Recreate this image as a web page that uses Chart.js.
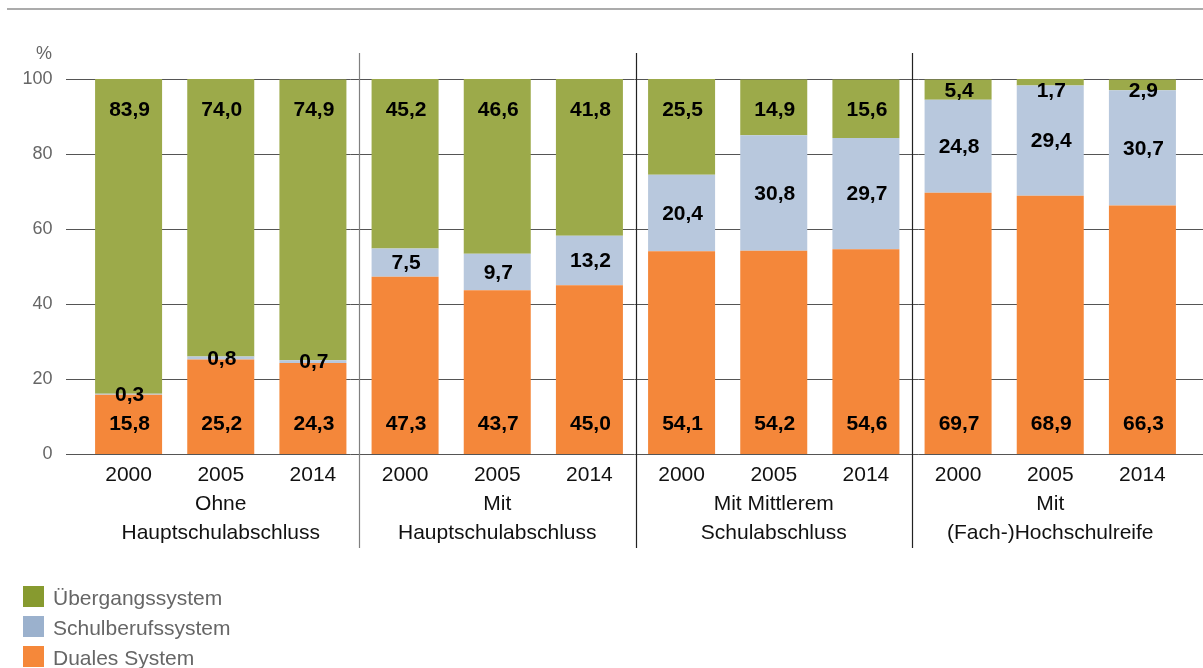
<!DOCTYPE html>
<html>
<head>
<meta charset="utf-8">
<script src="https://cdn.jsdelivr.net/npm/chart.js@4/dist/chart.umd.min.js"></script>
<style>
html,body{margin:0;padding:0;background:#fff;}
canvas{display:block;}
</style>
</head>
<body>
<canvas id="c" width="1203" height="668"></canvas>
<script>
const years = ['2000', '2005', '2014'];
const groups = [
  ['Ohne', 'Hauptschulabschluss'],
  ['Mit', 'Hauptschulabschluss'],
  ['Mit Mittlerem', 'Schulabschluss'],
  ['Mit', '(Fach-)Hochschulreife']
];
const seriesNames = ['Duales System', 'Schulberufssystem', 'Übergangssystem'];
const duales     = [15.8, 25.2, 24.3, 47.3, 43.7, 45.0, 54.1, 54.2, 54.6, 69.7, 68.9, 66.3];
const schulberuf = [0.3, 0.8, 0.7, 7.5, 9.7, 13.2, 20.4, 30.8, 29.7, 24.8, 29.4, 30.7];
const uebergang  = [83.9, 74.0, 74.9, 45.2, 46.6, 41.8, 25.5, 14.9, 15.6, 5.4, 1.7, 2.9];
const yTicks = [0, 20, 40, 60, 80, 100];

const barColors = ['#F4873A', '#B8C8DD', '#9CAA4A'];
const legendColors = ['#F5883A', '#9BB1CD', '#879A2F'];
const separatorColors = ['#808080', '#222', '#222'];
const FONT = "'Liberation Sans', Arial, sans-serif";

// category labels: year, plus group name lines under the middle year
const labels = [];
groups.forEach(g => {
  years.forEach((y, i) => {
    labels.push(i === 1 ? [y, g[0], g[1]] : [y]);
  });
});

function fmt(v) { return v.toFixed(1).replace('.', ','); }

const decor = {
  id: 'decor',
  beforeDatasetsDraw(chart) {
    const ctx = chart.ctx;
    const ys = chart.scales.y;
    ctx.save();
    // top rule
    ctx.strokeStyle = '#ababab';
    ctx.lineWidth = 2;
    ctx.beginPath(); ctx.moveTo(7, 9); ctx.lineTo(1203, 9); ctx.stroke();
    // horizontal grid
    ctx.lineWidth = 1;
    ctx.strokeStyle = '#555';
    yTicks.forEach(t => {
      const py = Math.round(ys.getPixelForValue(t)) + 0.5;
      ctx.beginPath(); ctx.moveTo(66, py); ctx.lineTo(1203, py); ctx.stroke();
    });
    // percent sign
    ctx.fillStyle = '#666';
    ctx.font = '18px ' + FONT;
    ctx.textAlign = 'center';
    ctx.textBaseline = 'middle';
    ctx.fillText('%', 44, 54);
    ctx.restore();
  },
  afterDatasetsDraw(chart) {
    const ctx = chart.ctx;
    const xs = chart.scales.x;
    const ys = chart.scales.y;
    ctx.save();
    // group separators
    ctx.lineWidth = 1.2;
    for (let g = 1; g < groups.length; g++) {
      const px = Math.round((xs.getPixelForValue(g * 3 - 1) + xs.getPixelForValue(g * 3)) / 2) + 0.5;
      ctx.strokeStyle = separatorColors[g - 1];
      ctx.beginPath(); ctx.moveTo(px, 53); ctx.lineTo(px, 548); ctx.stroke();
    }
    // value labels
    ctx.fillStyle = '#000';
    ctx.font = 'bold 21px ' + FONT;
    ctx.textAlign = 'center';
    ctx.textBaseline = 'middle';
    for (let i = 0; i < duales.length; i++) {
      const px = xs.getPixelForValue(i) + 1;
      const d = duales[i], s = schulberuf[i], u = uebergang[i];
      ctx.fillText(fmt(d), px, ys.getPixelForValue(8.3) + 1);
      ctx.fillText(fmt(s), px, ys.getPixelForValue(d + s / 2) + 1);
      const top = d + s;
      const gv = u > 10 ? 91.7 : Math.min(top + u / 2, 96.8);
      ctx.fillText(fmt(u), px, ys.getPixelForValue(gv));
    }
    // legend (top-down: Übergang, Schulberuf, Duales)
    const order = [2, 1, 0];
    ctx.font = '21px ' + FONT;
    ctx.textAlign = 'left';
    order.forEach((k, r) => {
      const top = 586 + r * 30;
      ctx.fillStyle = legendColors[k];
      ctx.fillRect(23, top, 21, 21);
      ctx.fillStyle = '#666';
      ctx.fillText(seriesNames[k], 53, top + 13);
    });
    ctx.restore();
  }
};

new Chart(document.getElementById('c'), {
  type: 'bar',
  data: {
    labels: labels,
    datasets: [
      { label: seriesNames[0], data: duales, backgroundColor: barColors[0] },
      { label: seriesNames[1], data: schulberuf, backgroundColor: barColors[1] },
      { label: seriesNames[2], data: uebergang, backgroundColor: barColors[2] }
    ]
  },
  options: {
    responsive: false,
    animation: false,
    devicePixelRatio: 1,
    layout: { padding: { top: 79, right: 14.5, bottom: 0, left: 0 } },
    datasets: { bar: { categoryPercentage: 1, barPercentage: 0.727, borderWidth: 0 } },
    plugins: { legend: { display: false }, tooltip: { enabled: false } },
    scales: {
      x: {
        stacked: true,
        grid: { display: false, drawTicks: false },
        border: { display: false },
        ticks: {
          color: '#111',
          font: { family: FONT, size: 21, lineHeight: 1.38 },
          padding: 7,
          maxRotation: 0,
          autoSkip: false
        },
        afterFit(s) { s.height = 214; }
      },
      y: {
        stacked: true,
        min: 0,
        max: 100,
        grid: { display: false, drawTicks: false },
        border: { display: false },
        ticks: {
          stepSize: 20,
          color: '#666',
          font: { family: FONT, size: 18 },
          padding: 30
        },
        afterFit(s) { s.width = 82.5; }
      }
    }
  },
  plugins: [decor]
});
</script>
</body>
</html>
